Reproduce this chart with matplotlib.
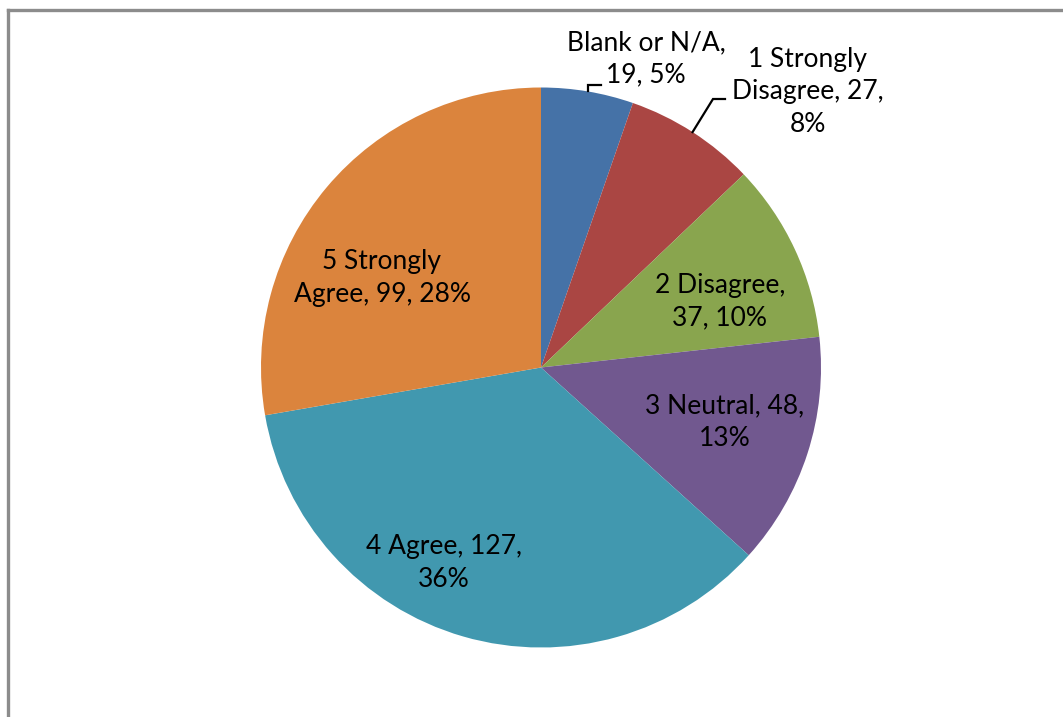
import numpy as np
import matplotlib
matplotlib.use("Agg")
import matplotlib.pyplot as plt
from matplotlib.lines import Line2D

# Survey responses
categories = ["Blank or N/A", "1 Strongly\nDisagree", "2 Disagree", "3 Neutral", "4 Agree", "5 Strongly\nAgree"]
counts = [19, 27, 37, 48, 127, 99]
colors = ["#4572A7", "#AA4643", "#89A54E", "#71588F", "#4198AF", "#DB843D"]

# Label text as laid out in the chart
label_texts = [
    "Blank or N/A,\n19, 5%",
    "1 Strongly\nDisagree, 27,\n8%",
    "2 Disagree,\n37, 10%",
    "3 Neutral, 48,\n13%",
    "4 Agree, 127,\n36%",
    "5 Strongly\nAgree, 99, 28%",
]

W, H = 1063, 717
fig = plt.figure(figsize=(W / 100, H / 100), dpi=100)
ax = fig.add_axes([0, 0, 1, 1])

cx, cy, r = 541, H - 367.5, 280
wedges, _ = ax.pie(counts, colors=colors, startangle=90, counterclock=False,
                   center=(cx, cy), radius=r, frame=True,
                   wedgeprops=dict(linewidth=0))
ax.set_xlim(0, W)
ax.set_ylim(0, H)
ax.set_aspect("equal")
ax.axis("off")

# label anchor positions (pixels from top-left)
label_pos = [(646, 59), (808, 92), (720, 302), (725, 422), (444, 563), (382, 278)]
for txt, (px, py) in zip(label_texts, label_pos):
    ax.text(px, H - py, txt, ha="center", va="center", fontsize=19,
            family="Lato", linespacing=1.38, color="black")

# leader lines for the two small slices
def edge_point(w):
    ang = np.deg2rad((w.theta1 + w.theta2) / 2)
    return cx + r * np.cos(ang), cy + r * np.sin(ang)

ex, ey = edge_point(wedges[0])
ax.plot([ex, ex, ex + 13], [ey, H - 85, H - 85], color="black", lw=1.6,
        solid_joinstyle="miter")
ex, ey = edge_point(wedges[1])
ax.plot([ex, 713, 725], [ey, H - 99, H - 99], color="black", lw=1.6,
        solid_joinstyle="miter")

# chart frame
fig.add_artist(Line2D([7.5 / W, 7.5 / W], [0, 1 - 10 / H], color="#8c8c8c", lw=2.4,
                      transform=fig.transFigure, solid_capstyle="projecting"))
fig.add_artist(Line2D([7.5 / W, 1], [1 - 10 / H, 1 - 10 / H], color="#8c8c8c", lw=2.4,
                      transform=fig.transFigure, solid_capstyle="projecting"))

fig.savefig("out.png", dpi=100, facecolor="white")
